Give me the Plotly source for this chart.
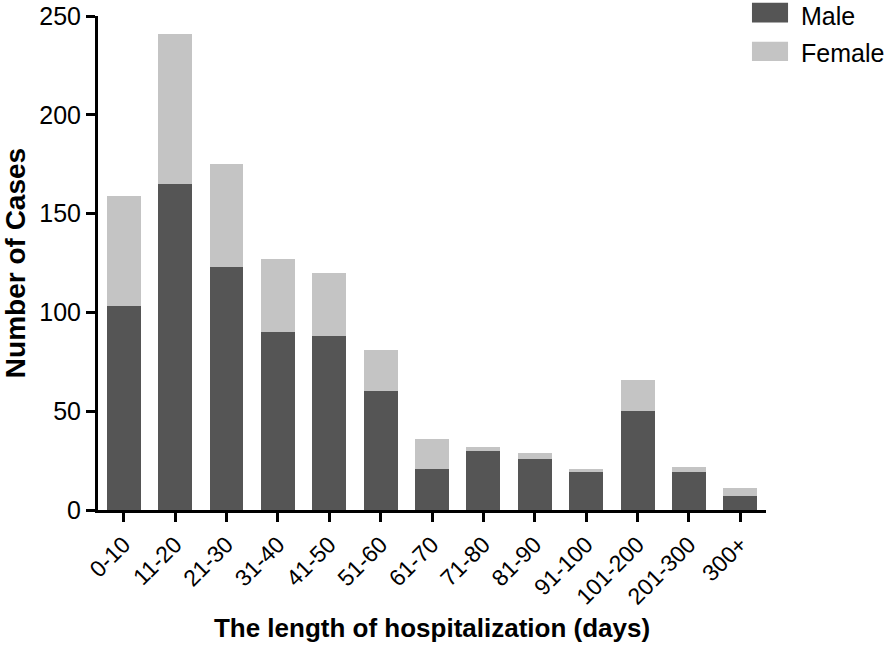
import plotly.graph_objects as go

categories = ["0-10", "11-20", "21-30", "31-40", "41-50", "51-60", "61-70",
              "71-80", "81-90", "91-100", "101-200", "201-300", "300+"]
male = [103, 165, 123, 90, 88, 60, 21, 30, 26, 19, 50, 19, 7]
female = [56, 76, 52, 37, 32, 21, 15, 2, 3, 2, 16, 3, 4]
y_ticks = [0, 50, 100, 150, 200, 250]

MALE_COLOR = "#555555"
FEMALE_COLOR = "#c4c4c4"
FONT = "Liberation Sans, Arial, Helvetica, sans-serif"

fig = go.Figure()
fig.add_trace(go.Bar(x=categories, y=male, name="Male",
                     marker=dict(color=MALE_COLOR, line=dict(width=0))))
fig.add_trace(go.Bar(x=categories, y=female, name="Female",
                     marker=dict(color=FEMALE_COLOR, line=dict(width=0))))

fig.update_layout(
    barmode="stack",
    bargap=0.34,
    width=894, height=649,
    margin=dict(l=98, r=128, t=16, b=139),
    plot_bgcolor="white", paper_bgcolor="white",
    showlegend=False,
    font=dict(family=FONT, color="black"),
)

fig.update_xaxes(
    range=[-0.5, 12.5], automargin=False,
    showline=True, linecolor="black", linewidth=3,
    ticks="outside", ticklen=9, tickwidth=3, tickcolor="black",
    tickangle=-45, tickfont=dict(size=23),
    showgrid=False, zeroline=False,
    title=dict(text="<b>The length of hospitalization (days)</b>",
               font=dict(size=26), standoff=11),
)
fig.update_yaxes(
    range=[0, 250], automargin=False,
    tickvals=y_ticks,
    showline=True, linecolor="black", linewidth=3,
    ticks="outside", ticklen=9, tickwidth=3, tickcolor="black",
    tickfont=dict(size=25),
    showgrid=False, zeroline=False,
    title=dict(text="<b>Number of Cases</b>", font=dict(size=28), standoff=26),
)

# Custom legend (large rectangular swatches as in the reference)
legend_items = [("Male", MALE_COLOR, 1.027, 0.987, 1.0), ("Female", FEMALE_COLOR, 0.948, 0.909, 0.925)]
for name, color, y0, y1, ytext in legend_items:
    fig.add_shape(type="rect", xref="paper", yref="paper",
                  x0=0.979, x1=1.033, y0=y1, y1=y0,
                  fillcolor=color, line=dict(width=0))
    fig.add_annotation(xref="paper", yref="paper", x=1.049, y=ytext,
                       text=name, showarrow=False, xanchor="left", yanchor="middle",
                       font=dict(size=25, family=FONT, color="black"))

fig.write_html("out.html", config={"displayModeBar": False},
               post_script="document.body.style.margin='0';document.body.style.overflow='hidden';")
